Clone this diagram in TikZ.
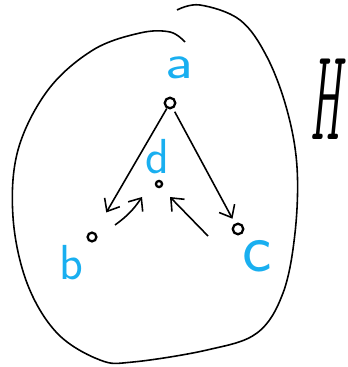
\documentclass[tikz,border=0pt]{standalone}
\usepackage{fontspec}
\usetikzlibrary{arrows.meta, positioning}
\definecolor{inkblue}{RGB}{25,175,240}
\newfontfamily\handfont{lmmonoltcond10-oblique.otf}
\tikzstyle{spot} = [circle, draw=black, line width=1.3pt, inner sep=0pt, minimum size=5pt]
\tikzstyle{lbl} = [text=inkblue, inner sep=0pt, font=\sffamily\fontsize{28}{28}\selectfont]
\tikzstyle{arrow} = [line width=0.9pt, -{Straight Barb[length=6pt, width=10pt]}]

\begin{document}
\begin{tikzpicture}[x=0.02cm, y=-0.02cm]
  \useasboundingbox (0,0) rectangle (347,367);

  % Outline
  \draw[line width=0.9pt] plot[smooth, tension=0.6] coordinates {
    (177,10) (200,5) (240,20) (267,57) (287,110) (297,167) (295,233)
    (283,293) (257,333) (207,350) (133,362) (100,360) (57,333) (27,283)
    (13,217) (18,150) (48,90) (93,50) (140,33) (170,32) (185,42)};

  % Points
  \node[spot, minimum size=6pt] (a) at (170,103) {};
  \node[spot] (b) at (92,237) {};
  \node[spot, minimum size=6pt] (c) at (238,229) {};
  \node[spot, minimum size=3.5pt] (d) at (159,184) {};

  % Labels
  \node[lbl, xscale=1.25] (la) at (179,68) {a};
  \node[lbl] (lb) at (71,263) {b};
  \node[lbl, font=\sffamily\fontsize{40}{40}\selectfont] (lc) at (257,256) {c};
  \node[lbl] (ld) at (157,157) {d};
  \node[inner sep=0pt, xscale=0.6, font=\handfont\fontsize{75}{75}\selectfont] (h) at (325,99) {H};

  % Flows
  \draw[arrow, shorten >=13pt] (a) -- (b);
  \draw[arrow, shorten <=2pt, shorten >=3pt] (a) -- (c);
  \draw[arrow] ([shift={(23,-12)}]b.center) to[bend right=10] ([shift={(-17,13)}]d.center);
  \draw[arrow] ([shift={(-30,7)}]c.center) -- ([shift={(11,13)}]d.center);
\end{tikzpicture}
\end{document}
